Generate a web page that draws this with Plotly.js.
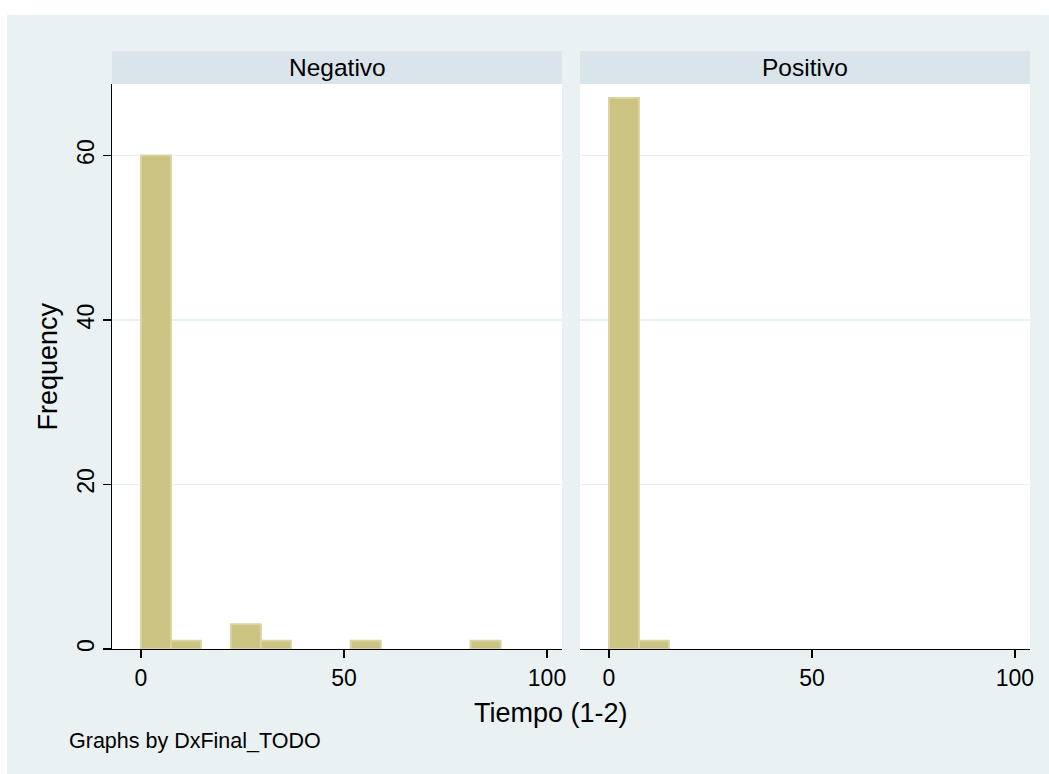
<!DOCTYPE html>
<html>
<head>
<meta charset="utf-8">
<script src="https://cdn.plot.ly/plotly-3.0.1.min.js"></script>
<style>
  html, body { margin: 0; padding: 0; background: #ffffff; }
  #chart { position: absolute; left: 7px; top: 15px; width: 1042px; height: 759px; }
</style>
</head>
<body>
<div id="chart"></div>
<script>
// Histogram of Tiempo (1-2), split by DxFinal_TODO
const groups = ["Negativo", "Positivo"];
const binWidth = 7.38;
const negativoCounts = [60, 1, 0, 3, 1, 0, 0, 1, 0, 0, 0, 1];
const positivoCounts = [67, 1, 0, 0, 0, 0, 0, 0, 0, 0, 0, 0];
const xTicks = [0, 50, 100];
const yTicks = [0, 20, 40, 60];
const xTitle = "Tiempo (1-2)";
const yTitle = "Frequency";
const note = "Graphs by DxFinal_TODO";

const FONT = "Liberation Sans, Arial, Helvetica, sans-serif";
const BG = "#eaf1f3";
const STRIP = "#d9e5eb";
const FILL = "#cbc382";
const EDGE = "#dbd4a2";

function centers(counts) {
  return counts.map((_, i) => (i + 0.5) * binWidth);
}

function histTrace(counts, xa, ya) {
  return {
    type: "bar",
    x: centers(counts),
    y: counts,
    width: counts.map(() => binWidth),
    xaxis: xa,
    yaxis: ya,
    // empty bins get no outline so nothing is drawn for them
    marker: { color: FILL, line: { color: EDGE, width: counts.map(c => (c > 0 ? 2 : 0)) } },
    hoverinfo: "x+y",
    showlegend: false
  };
}

const traces = [
  histTrace(negativoCounts, "x", "y"),
  histTrace(positivoCounts, "x2", "y2")
];

const xRange = [-7.14, 103.7];
const yRange = [0, 68.7];

const baseX = {
  range: xRange,
  tickvals: xTicks,
  ticktext: xTicks.map(String),
  ticks: "outside",
  ticklen: 8,
  tickwidth: 1.3,
  tickcolor: "#000",
  showline: true,
  linecolor: "#000",
  linewidth: 1.3,
  showgrid: false,
  zeroline: false,
  tickfont: { family: FONT, size: 23, color: "#000" }
};

const layout = {
  width: 1042,
  height: 759,
  margin: { l: 105, r: 19, t: 69, b: 124.7 },
  paper_bgcolor: BG,
  plot_bgcolor: "#ffffff",
  bargap: 0,
  font: { family: FONT, color: "#000" },
  xaxis: Object.assign({}, baseX, { domain: [0, 0.4902], anchor: "y" }),
  xaxis2: Object.assign({}, baseX, { domain: [0.5098, 1], anchor: "y2" }),
  yaxis: {
    domain: [0, 1],
    range: yRange,
    anchor: "x",
    tickvals: yTicks,
    ticktext: yTicks.map(String),
    tickangle: -90,
    ticks: "outside",
    ticklen: 8,
    tickwidth: 1.3,
    tickcolor: "#000",
    showline: true,
    linecolor: "#000",
    linewidth: 1.3,
    showgrid: true,
    gridcolor: BG,
    gridwidth: 1.8,
    zeroline: false,
    tickfont: { family: FONT, size: 23, color: "#000" }
  },
  yaxis2: {
    domain: [0, 1],
    range: yRange,
    anchor: "x2",
    tickvals: yTicks,
    showticklabels: false,
    ticks: "",
    showline: false,
    showgrid: true,
    gridcolor: BG,
    gridwidth: 1.8,
    zeroline: false
  },
  shapes: [
    // strip headers above each panel
    { type: "rect", xref: "paper", yref: "paper", x0: 0, x1: 0.4902, y0: 1, y1: 1.0583,
      fillcolor: STRIP, line: { width: 0 }, layer: "below" },
    { type: "rect", xref: "paper", yref: "paper", x0: 0.5098, x1: 1, y0: 1, y1: 1.0583,
      fillcolor: STRIP, line: { width: 0 }, layer: "below" },
    // short overhang of the first panel's x axis line
    { type: "line", xref: "paper", yref: "y", x0: -0.0098, x1: 0, y0: 0, y1: 0,
      line: { color: "#000", width: 1.3 } }
  ],
  annotations: [
    { text: groups[0], xref: "paper", yref: "paper", x: 0.2451, y: 1.0292,
      xanchor: "center", yanchor: "middle", showarrow: false,
      font: { family: FONT, size: 24.5, color: "#000" } },
    { text: groups[1], xref: "paper", yref: "paper", x: 0.7549, y: 1.0292,
      xanchor: "center", yanchor: "middle", showarrow: false,
      font: { family: FONT, size: 24.5, color: "#000" } },
    { text: yTitle, xref: "paper", yref: "paper", x: -0.0708, y: 0.5,
      textangle: -90, xanchor: "center", yanchor: "middle", showarrow: false,
      font: { family: FONT, size: 27, color: "#000" } },
    { text: xTitle, xref: "paper", yref: "paper", x: 0.478, y: -0.114,
      xanchor: "center", yanchor: "middle", showarrow: false,
      font: { family: FONT, size: 27, color: "#000" } },
    { text: note, xref: "paper", yref: "paper", x: -0.049, y: -0.1637,
      xanchor: "left", yanchor: "middle", showarrow: false,
      font: { family: FONT, size: 21.5, color: "#000" } }
  ]
};

Plotly.newPlot("chart", traces, layout, { displayModeBar: false, staticPlot: true });
</script>
</body>
</html>
